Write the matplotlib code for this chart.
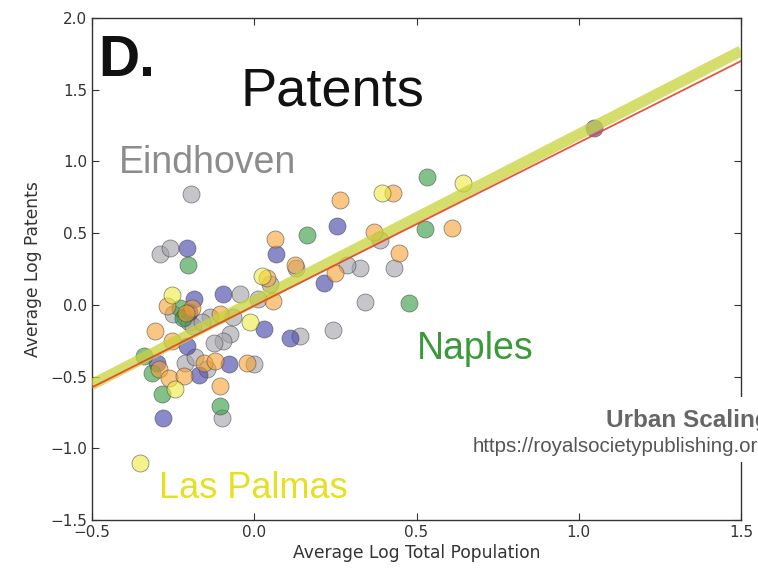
import matplotlib
matplotlib.use("Agg")
import matplotlib.pyplot as plt
from matplotlib.patches import Rectangle

plt.rcParams['font.family'] = ['DejaVu Sans']

# ---- data ----
grey_x = [-0.195, -0.29, -0.261, 0.13, 0.049, -0.043, 0.013, -0.249, -0.213, -0.20, -0.136, -0.064,
          0.142, -0.074, -0.095, -0.125, -0.213, -0.182, -0.002, -0.146, -0.10, 0.388, 0.431, 0.327,
          0.285, 0.342, 0.243, -0.19, -0.16]
grey_y = [0.776, 0.358, 0.395, 0.26, 0.144, 0.075, 0.040, -0.065, -0.088, -0.12, -0.088, -0.088,
          -0.216, -0.205, -0.251, -0.263, -0.402, -0.363, -0.414, -0.448, -0.786, 0.451, 0.256, 0.256,
          0.28, 0.023, -0.177, -0.15, -0.12]

blue_x = [-0.206, 0.067, -0.095, -0.187, 0.031, 0.111, -0.207, -0.30, -0.079, -0.171, -0.28, 0.255,
          0.216, 1.046, -0.20]
blue_y = [0.395, 0.353, 0.075, 0.04, -0.165, -0.228, -0.286, -0.402, -0.414, -0.49, -0.786, 0.551,
          0.149, 1.232, -0.05]

green_x = [-0.203, 0.162, -0.228, -0.341, -0.315, -0.284, -0.105, 0.532, 0.527, 0.476, -0.22]
green_y = [0.277, 0.488, -0.019, -0.356, -0.472, -0.623, -0.704, 0.888, 0.528, 0.016, -0.09]

orange_x = [0.064, 0.127, 0.039, 0.059, -0.269, -0.192, -0.105, -0.305, -0.254, -0.156, -0.12,
            -0.022, -0.295, -0.264, -0.218, -0.105, 0.263, 0.429, 0.37, 0.609, 0.445, 0.25, -0.21]
orange_y = [0.458, 0.275, 0.186, 0.028, -0.007, -0.019, -0.065, -0.18, -0.251, -0.402, -0.39,
            -0.402, -0.448, -0.507, -0.495, -0.565, 0.73, 0.783, 0.509, 0.533, 0.365, 0.225, -0.06]

yellow_x = [0.024, -0.254, -0.012, -0.243, 0.643, 0.393, -0.351]
yellow_y = [0.202, 0.070, -0.123, -0.588, 0.853, 0.783, -1.10]

fit_x = [-0.5, 1.5]
band_y = [-0.555, 1.77]
red_y = [-0.575, 1.70]

xticks = [-0.5, 0.0, 0.5, 1.0, 1.5]
yticks = [-1.5, -1.0, -0.5, 0.0, 0.5, 1.0, 1.5, 2.0]

# ---- figure ----
fig = plt.figure(figsize=(7.58, 5.73), dpi=100)
ax = fig.add_axes([92/758, 53/573, (741-92)/758, (520-18)/573])

ms = 150
kw = dict(s=ms, alpha=0.6, edgecolors='#444444', linewidths=0.6, zorder=3)
ax.scatter(grey_x, grey_y, color='#a0a0a8', **kw)
ax.scatter(blue_x, blue_y, color='#3c3ca8', **kw)
ax.scatter(green_x, green_y, color='#2f9a3c', **kw)
ax.scatter(orange_x, orange_y, color='#f5a030', **kw)
ax.scatter(yellow_x, yellow_y, color='#eeea40', **kw)

ax.plot(fit_x, band_y, color='#c8d23c', lw=8, alpha=0.75, solid_capstyle='butt', zorder=4)
ax.plot(fit_x, red_y, color='#e8402a', lw=1.3, alpha=0.9, zorder=5)

ax.set_xlim(-0.5, 1.5)
ax.set_ylim(-1.5, 2.0)
ax.set_xticks(xticks)
ax.set_yticks(yticks)
ax.set_xticklabels(['\u22120.5', '0.0', '0.5', '1.0', '1.5'])
ax.set_yticklabels(['\u22121.5', '\u22121.0', '\u22120.5', '0.0', '0.5', '1.0', '1.5', '2.0'])
ax.tick_params(direction='in', top=True, right=True, labelsize=11, length=5, color='#333333',
               labelcolor='#333333')
for sp in ax.spines.values():
    sp.set_color('#333333')
    sp.set_linewidth(1.0)
ax.set_xlabel('Average Log Total Population', fontsize=12.3, color='#333333', labelpad=3)
ax.set_ylabel('Average Log Patents', fontsize=12.3, color='#333333', labelpad=6)

# annotations
ax.text(-0.482, 1.597, 'D.', fontsize=41, fontweight='bold', color='#111111',
        family='Liberation Sans', va='baseline', ha='left', zorder=6)
ax.text(-0.042, 1.388, 'Patents', fontsize=39, color='#111111', family='Liberation Sans',
        va='baseline', ha='left', zorder=6)
ax.text(-0.418, 0.92, 'Eindhoven', fontsize=27, color='#8c8c8c', family='Liberation Sans',
        va='baseline', ha='left', zorder=6)
ax.text(0.5, -0.377, 'Naples', fontsize=27, color='#3a9a3a', family='Liberation Sans',
        va='baseline', ha='left', zorder=6)
ax.text(-0.295, -1.346, 'Las Palmas', fontsize=26, color='#e6e020', family='Liberation Sans',
        va='baseline', ha='left', zorder=6)

# white patch with source caption
fig.patches.append(Rectangle((470/758, 1-462/573), 300/758, 65/573, transform=fig.transFigure,
                             facecolor='white', edgecolor='none', zorder=10))
fig.text(606/758, 1-427/573, 'Urban Scaling', fontsize=17.5, fontweight='bold', color='#666666',
         family='Liberation Sans', va='baseline', ha='left', zorder=11)
fig.text(473/758, 1-452/573, 'https://royalsocietypublishing.org', fontsize=14.8, color='#555555',
         family='Liberation Sans', va='baseline', ha='left', zorder=11)

fig.savefig('out.png', dpi=100)
